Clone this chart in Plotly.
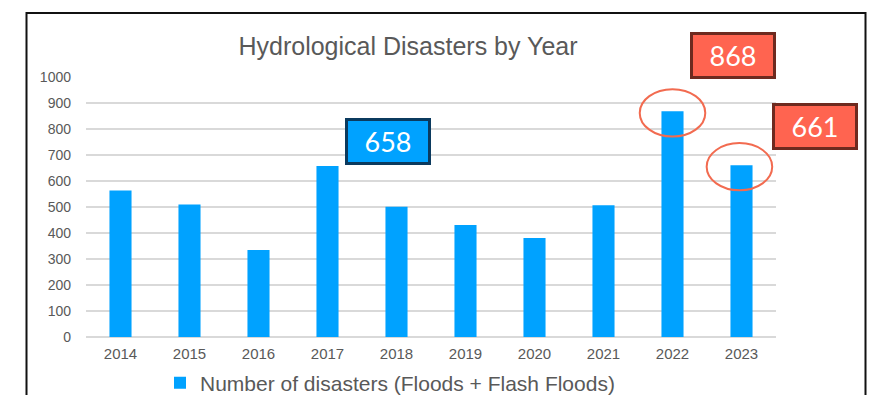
import plotly.graph_objects as go

# Yearly counts of hydrological disasters
years = ["2014", "2015", "2016", "2017", "2018", "2019", "2020", "2021", "2022", "2023"]
disasters = [563, 510, 335, 658, 501, 431, 381, 507, 868, 661]
series_name = "Number of disasters (Floods + Flash Floods)"
y_ticks = [0, 100, 200, 300, 400, 500, 600, 700, 800, 900, 1000]

BAR_BLUE = "#00A2FF"
TEXT_GREY = "#595959"
GRID_GREY = "#D9D9D9"
CALLOUT_RED = "#FF6450"
CALLOUT_RED_EDGE = "#6E2A1F"
CALLOUT_BLUE_EDGE = "#0B3A5E"
RING_RED = "#F26B50"

W, H = 881, 395
# plot rectangle in page pixels
PX_LEFT, PX_RIGHT, PX_TOP, PX_BOTTOM = 86, 776, 77, 337


def fx(p):
    """page pixel column -> paper x"""
    return p / W


def fy(p):
    """page pixel row -> paper y"""
    return 1 - p / H


fig = go.Figure()
fig.add_trace(go.Bar(
    x=years, y=disasters, name=series_name,
    marker=dict(color=BAR_BLUE, line=dict(width=0)),
    showlegend=True,
))

idx = {y: i for i, y in enumerate(years)}

# Callout boxes stating values (centre positions in page pixels)
callouts = [
    ("2017", 388, 141, BAR_BLUE, CALLOUT_BLUE_EDGE),
    ("2022", 733, 56, CALLOUT_RED, CALLOUT_RED_EDGE),
    ("2023", 815, 127, CALLOUT_RED, CALLOUT_RED_EDGE),
]
annotations = []
for yr, cx, cy, fill, edge in callouts:
    annotations.append(dict(
        x=fx(cx), y=fy(cy), xref="paper", yref="paper",
        xanchor="center", yanchor="middle", showarrow=False,
        text=str(disasters[idx[yr]]),
        font=dict(family="Lato, Open Sans, sans-serif", size=27, color="white"),
        bgcolor=fill, bordercolor=edge, borderwidth=3, borderpad=0,
        width=80, height=41, align="center", valign="middle",
    ))

# Rings highlighting the two most recent peaks
shapes = []
for yr, dx in (("2022", 0.0), ("2023", -0.03)):
    i = idx[yr]
    v = disasters[i]
    shapes.append(dict(
        type="circle", xref="x", yref="y",
        x0=i + dx - 0.475, x1=i + dx + 0.475,
        y0=v - 97, y1=v + 85,
        line=dict(color=RING_RED, width=2), fillcolor="rgba(0,0,0,0)",
    ))

# Outer frame around the chart
shapes.append(dict(
    type="rect", xref="paper", yref="paper",
    x0=fx(26.5), x1=fx(865.5), y0=fy(420), y1=fy(13),
    line=dict(color="#111111", width=2), fillcolor="rgba(0,0,0,0)",
    layer="below",
))

fig.update_layout(
    width=W, height=H,
    margin=dict(l=0, r=0, t=0, b=0, autoexpand=False),
    paper_bgcolor="white", plot_bgcolor="white",
    bargap=0.68,
    title=dict(
        text="Hydrological Disasters by Year",
        x=fx(408), xanchor="center", xref="paper",
        y=fy(46), yanchor="middle", yref="paper",
        font=dict(family="Liberation Sans, Arial, sans-serif", size=25, color=TEXT_GREY),
    ),
    font=dict(family="Liberation Sans, Arial, sans-serif", color=TEXT_GREY),
    xaxis=dict(
        type="category", range=[-0.5, 9.5],
        domain=[fx(PX_LEFT), fx(PX_RIGHT)],
        showgrid=False, showline=False, zeroline=False,
        ticks="", tickfont=dict(size=15, color=TEXT_GREY),
        ticklabelstandoff=6,
    ),
    yaxis=dict(
        range=[0, 1000], tickvals=y_ticks,
        domain=[fy(PX_BOTTOM), fy(PX_TOP)],
        showgrid=True, gridcolor=GRID_GREY, gridwidth=1.5,
        zeroline=True, zerolinecolor=GRID_GREY, zerolinewidth=1.5,
        showline=False, ticks="",
        tickfont=dict(size=14, color=TEXT_GREY),
        ticklabelstandoff=14,
    ),
    legend=dict(
        orientation="h", x=fx(160), xanchor="left",
        y=fy(383), yanchor="middle",
        font=dict(size=21, color=TEXT_GREY),
        itemwidth=30,
    ),
    annotations=annotations,
    shapes=shapes,
)

fig.write_html("out.html")
